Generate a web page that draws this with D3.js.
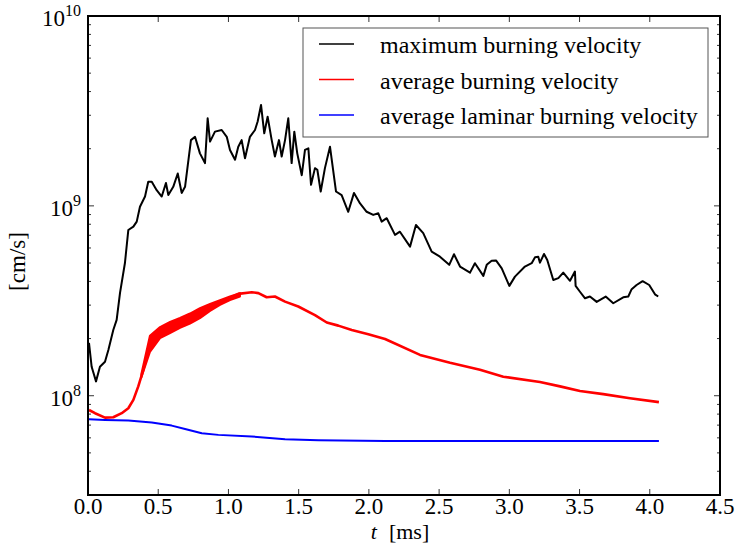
<!DOCTYPE html>
<html>
<head>
<meta charset="utf-8">
<script src="https://cdn.jsdelivr.net/npm/d3@7"></script>
<style>
  body { margin: 0; background: #fff; }
</style>
</head>
<body>
<svg id="chart" width="735" height="545"></svg>
<script>
// time in ms, velocity in cm/s
var maxT = [0.007,0.026,0.057,0.085,0.121,0.145,0.180,0.204,0.228,0.263,0.287,0.323,0.347,0.370,0.406,0.429,0.454,0.489,0.525,0.555,
  0.572,0.607,0.639,0.667,0.691,0.733,0.762,0.797,0.833,0.852,0.869,0.904,0.952,0.988,1.011,1.047,1.070,1.094,1.118,1.153,
  1.189,1.208,1.232,1.255,1.279,1.308,1.331,1.360,1.379,1.403,1.426,1.450,1.469,1.490,1.522,1.545,1.569,1.588,1.616,1.633,
  1.657,1.687,1.723,1.766,1.806,1.853,1.894,1.937,1.984,2.031,2.067,2.091,2.127,2.186,2.221,2.293,2.335,2.387,2.447,2.506,
  2.572,2.606,2.649,2.720,2.755,2.815,2.839,2.874,2.905,2.946,3.000,3.040,3.111,3.159,3.183,3.206,3.218,3.247,3.270,3.313,
  3.349,3.384,3.432,3.467,3.472,3.503,3.539,3.574,3.622,3.686,3.740,3.811,3.847,3.871,3.906,3.949,3.996,4.037,4.060];
var maxV = [1.90e8,1.42e8,1.19e8,1.42e8,1.51e8,1.74e8,2.22e8,2.51e8,3.48e8,5.00e8,7.46e8,7.77e8,8.26e8,9.9e8,1.12e9,1.34e9,1.34e9,1.21e9,1.12e9,1.32e9,
  1.14e9,1.26e9,1.48e9,1.17e9,1.26e9,2.22e9,2.31e9,1.89e9,1.68e9,2.89e9,2.18e9,2.46e9,2.51e9,2.31e9,1.97e9,1.75e9,2.05e9,2.22e9,1.78e9,2.31e9,
  2.51e9,2.78e9,3.40e9,2.41e9,2.95e9,2.22e9,1.82e9,2.22e9,1.82e9,2.22e9,2.89e9,1.68e9,2.46e9,1.89e9,1.45e9,1.97e9,2.01e9,1.29e9,1.58e9,1.55e9,
  1.19e9,1.58e9,2.05e9,1.19e9,1.14e9,9.31e8,1.17e9,1.03e9,9.31e8,8.96e8,9.14e8,8.26e8,8.61e8,7.03e8,7.31e8,6.10e8,7.93e8,7.18e8,5.74e8,5.40e8,
  4.89e8,5.56e8,4.79e8,4.45e8,4.99e8,4.28e8,4.89e8,5.14e8,5.16e8,4.69e8,3.79e8,4.24e8,4.79e8,4.99e8,5.36e8,5.40e8,5.02e8,5.58e8,5.19e8,4.07e8,
  4.16e8,4.45e8,4.03e8,4.51e8,3.79e8,3.53e8,3.26e8,3.33e8,3.12e8,3.33e8,3.07e8,3.30e8,3.33e8,3.64e8,3.83e8,4.01e8,3.83e8,3.42e8,3.33e8];

var avgT = [0.007,0.050,0.121,0.180,0.240,0.287,0.323,0.358,0.394,0.429,0.465,0.513,0.572,0.667,0.762,0.881,0.975,1.070,1.166,1.213,
  1.272,1.331,1.403,1.497,1.616,1.700,1.782,1.878,1.996,2.115,2.364,2.578,2.791,2.957,3.218,3.361,3.503,3.669,3.859,4.065];
var avgV = [8.41e7,8.09e7,7.67e7,7.70e7,8.09e7,8.59e7,9.51e7,1.12e8,1.37e8,1.71e8,1.97e8,2.15e8,2.35e8,2.48e8,2.63e8,2.95e8,3.18e8,3.44e8,3.51e8,3.47e8,
  3.30e8,3.33e8,3.13e8,2.95e8,2.66e8,2.43e8,2.34e8,2.22e8,2.11e8,1.99e8,1.64e8,1.49e8,1.37e8,1.26e8,1.18e8,1.12e8,1.06e8,1.02e8,9.70e7,9.25e7];

// envelope of the fast oscillation of the average burning velocity
var bandT  = [0.380,0.441,0.513,0.584,0.655,0.726,0.797,0.869,0.940,1.011,1.082];
var bandHi = [1.30e8,2.07e8,2.30e8,2.45e8,2.57e8,2.71e8,2.89e8,3.04e8,3.19e8,3.33e8,3.47e8];
var bandLo = [1.25e8,1.70e8,2.01e8,2.14e8,2.28e8,2.40e8,2.56e8,2.80e8,3.01e8,3.19e8,3.33e8];

var lamT = [0.007,0.121,0.287,0.454,0.596,0.691,0.810,0.928,1.166,1.403,1.640,2.115,4.065];
var lamV = [7.52e7,7.46e7,7.40e7,7.22e7,6.96e7,6.68e7,6.34e7,6.22e7,6.10e7,5.90e7,5.83e7,5.78e7,5.78e7];

var seriesNames = ['maximum burning velocity','average burning velocity','average laminar burning velocity'];
var xTicks = [0,0.5,1,1.5,2,2.5,3,3.5,4,4.5];
var yMajor = [1e8,1e9,1e10];

//--------------------------------------------------

var width = 735;
var height = 545;
var margin = {top:16, right:15, bottom:50, left:88};
var w = width - margin.left - margin.right;
var h = height - margin.top - margin.bottom;
var serif = "'Liberation Serif','Times New Roman',Times,'DejaVu Serif',serif";

var svg = d3.select('#chart').attr('font-family',serif);
var g = svg.append('g')
		.attr('transform','translate('+margin.left+','+margin.top+')');

var x = d3.scaleLinear().domain([0,4.5]).range([0,w]);
var y = d3.scaleLog().domain([3e7,1e10]).range([h,0]);

var colours = ['#000000','#ff0000','#0000ff'];
var series = [
	{t:maxT, v:maxV, width:2},
	{t:avgT, v:avgV, width:2.6},
	{t:lamT, v:lamV, width:2}
];

var line = d3.line()
		.x(function(d){ return x(d[0]) })
		.y(function(d){ return y(d[1]) });

g.append('clipPath').attr('id','clip')
	.append('rect').attr('width',w).attr('height',h);

series.forEach(function(s,i){
	g.append('path')
		.attr('clip-path','url(#clip)')
		.datum(d3.zip(s.t,s.v))
		.attr('fill','none')
		.attr('stroke',colours[i])
		.attr('stroke-width',s.width)
		.attr('stroke-linejoin','round')
		.attr('d',line);
});

// oscillation band of the red curve
var band = d3.area()
		.x(function(d){ return x(d[0]) })
		.y0(function(d){ return y(d[2]) })
		.y1(function(d){ return y(d[1]) });
g.append('path')
	.datum(d3.zip(bandT,bandHi,bandLo))
	.attr('fill',colours[1])
	.attr('stroke',colours[1])
	.attr('stroke-width',2)
	.attr('stroke-linejoin','round')
	.attr('d',band);

// minor ticks for the log axis
var yMinor = [];
[1e7,1e8,1e9].forEach(function(dec){
	for(var k=2;k<=9;k++){
		var v = k*dec;
		if(v>=3e7 && v<1e10) yMinor.push(v);
	}
});

var tickG = g.append('g').attr('stroke','#000').attr('stroke-width',0.8);
xTicks.forEach(function(t){
	tickG.append('line').attr('x1',x(t)).attr('x2',x(t)).attr('y1',h).attr('y2',h-6);
	tickG.append('line').attr('x1',x(t)).attr('x2',x(t)).attr('y1',0).attr('y2',6);
});
yMajor.forEach(function(v){
	tickG.append('line').attr('x1',0).attr('x2',6).attr('y1',y(v)).attr('y2',y(v));
	tickG.append('line').attr('x1',w).attr('x2',w-6).attr('y1',y(v)).attr('y2',y(v));
});
yMinor.forEach(function(v){
	tickG.append('line').attr('x1',0).attr('x2',3).attr('y1',y(v)).attr('y2',y(v));
	tickG.append('line').attr('x1',w).attr('x2',w-3).attr('y1',y(v)).attr('y2',y(v));
});

// frame
g.append('rect')
	.attr('width',w).attr('height',h)
	.attr('fill','none').attr('stroke','#000').attr('stroke-width',2);

// x tick labels
g.selectAll('.xlab')
	.data(xTicks)
	.enter()
	.append('text')
	.attr('class','xlab')
	.attr('x',function(d){ return x(d) })
	.attr('y',h+19)
	.attr('text-anchor','middle')
	.attr('font-size',23)
	.text(function(d){ return d3.format('.1f')(d) });

// y tick labels as 10^n
yMajor.forEach(function(v){
	var t = g.append('text')
		.attr('x',-7)
		.attr('y',y(v)+10)
		.attr('text-anchor','end')
		.attr('font-size',23);
	t.append('tspan').text('10');
	t.append('tspan').attr('dy',-10).attr('font-size',16).text(Math.round(Math.log10(v)));
});

// axis labels
var xl = svg.append('text')
	.attr('x',margin.left + w/2 - 4)
	.attr('y',539)
	.attr('text-anchor','middle')
	.attr('font-size',22);
xl.append('tspan').attr('font-style','italic').text('t');
xl.append('tspan').attr('dx',12).text('[ms]');

svg.append('text')
	.attr('transform','translate(25,'+(margin.top+h/2+6)+') rotate(-90)')
	.attr('text-anchor','middle')
	.attr('font-size',23)
	.text('[cm/s]');

// legend
var leg = svg.append('g').attr('transform','translate(303,28)');
leg.append('rect')
	.attr('width',405).attr('height',109)
	.attr('fill','#fff').attr('stroke','#555').attr('stroke-width',1);
seriesNames.forEach(function(name,i){
	var yy = 16 + i*35.5;
	leg.append('line')
		.attr('x1',16).attr('x2',51).attr('y1',yy).attr('y2',yy)
		.attr('stroke',colours[i]).attr('stroke-width',1.5);
	leg.append('text')
		.attr('x',77).attr('y',yy+9)
		.attr('font-size',24)
		.text(name);
});
</script>
</body>
</html>
